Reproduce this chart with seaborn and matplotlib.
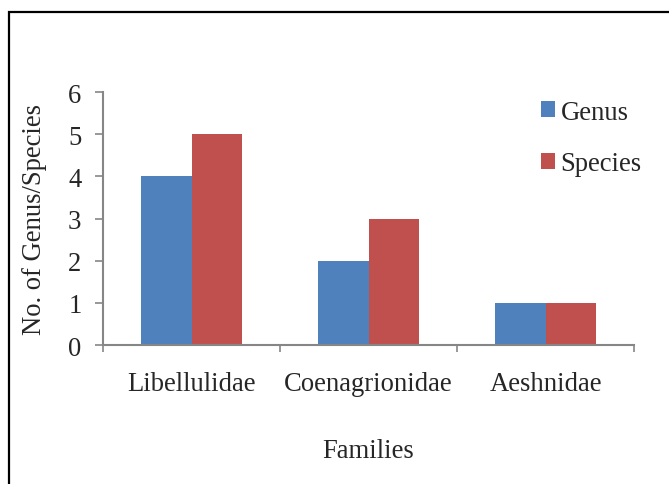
import matplotlib
matplotlib.use("Agg")
import matplotlib.pyplot as plt
from matplotlib.patches import Rectangle
import seaborn as sns
import pandas as pd

# Odonata families recorded, with genus and species counts
families = ["Libellulidae", "Coenagrionidae", "Aeshnidae"]
genus_counts = [4, 2, 1]
species_counts = [5, 3, 1]
series_names = ["Genus", "Species"]
y_ticks = [0, 1, 2, 3, 4, 5, 6]

df = pd.DataFrame({
    "Family": families * 2,
    "Count": genus_counts + species_counts,
    "Series": [series_names[0]] * len(families) + [series_names[1]] * len(families),
})

sns.set_style("white")
plt.rcParams["font.family"] = ["Liberation Serif", "DejaVu Serif"]

FS = 19.2
W, H = 669, 485
fig = plt.figure(figsize=(W / 100, H / 100), dpi=100)
ax = fig.add_axes([103 / W, 1 - 346 / H, (634 - 103) / W, (346 - 93) / H])

sns.barplot(data=df, x="Family", y="Count", hue="Series", ax=ax,
            palette=["#4F81BD", "#C0504D"], width=0.57, saturation=1,
            linewidth=0, order=families, hue_order=series_names)

ax.set_xlim(-0.5, 2.5)
ax.set_ylim(0, 6)
ax.set_yticks(y_ticks)
ax.set_xticks([0, 1, 2])
ax.set_xticklabels(families)
ax.set_xticks([-0.5, 0.5, 1.5, 2.5], minor=True)

gray = "#868686"
for side in ["top", "right"]:
    ax.spines[side].set_visible(False)
for side in ["left", "bottom"]:
    ax.spines[side].set_color(gray)
    ax.spines[side].set_linewidth(1.5)

ax.tick_params(axis="y", which="major", direction="out", length=5.5, width=1.2,
               color=gray, labelsize=FS, pad=10, left=True)
ax.tick_params(axis="x", which="major", length=0, labelsize=FS, pad=19)
ax.tick_params(axis="x", which="minor", direction="out", length=5, width=1.2,
               color=gray, bottom=True)

ax.set_xlabel("Families", fontsize=FS, labelpad=30)
ax.set_ylabel("No. of Genus/Species", fontsize=FS, labelpad=15)

handles, labels = ax.get_legend_handles_labels()
ax.legend(handles, labels, loc="upper left", bbox_to_anchor=(530 / W, 1 - 90 / H),
          bbox_transform=fig.transFigure, frameon=False, fontsize=FS,
          handlelength=0.55, handleheight=0.55, handletextpad=0.2,
          labelspacing=1.0, borderaxespad=0)

# outer chart frame
fig.patches.append(Rectangle((9 / W, -0.1), 1.2, 1 - 12.5 / H + 0.1,
                             transform=fig.transFigure, fill=False,
                             edgecolor="black", linewidth=1.6))

fig.savefig("out.png", dpi=100)
